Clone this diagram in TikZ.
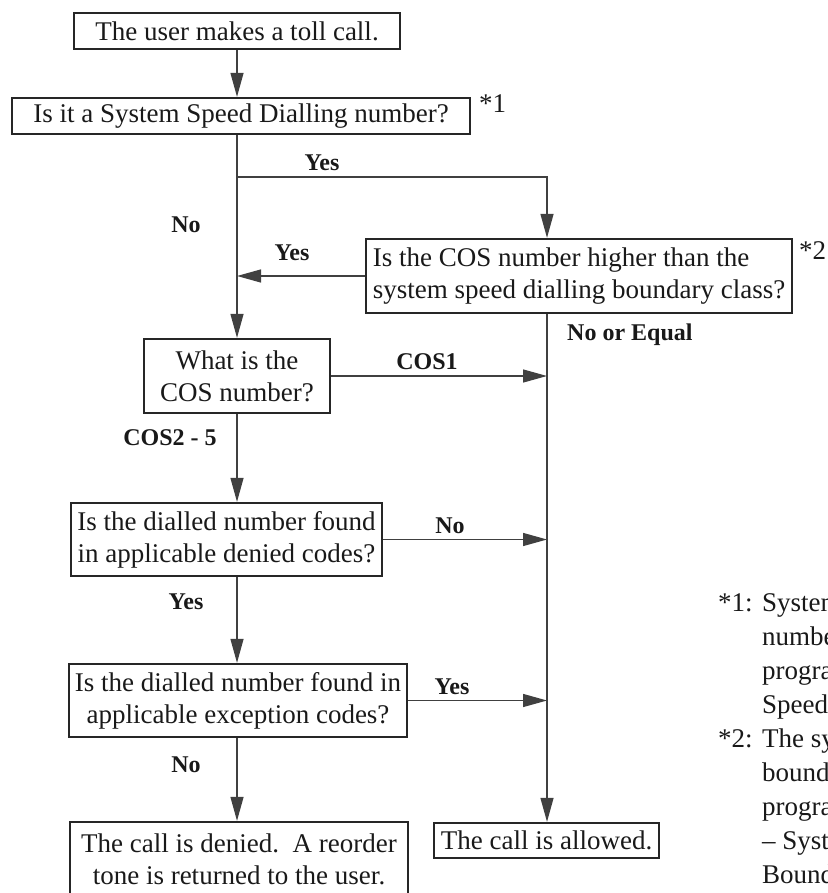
\documentclass[tikz,border=0pt]{standalone}
\usepackage{fontspec}
\setmainfont{Liberation Serif}
\usetikzlibrary{arrows.meta}
\begin{document}
\begin{tikzpicture}[x=1pt,y=-1pt,
  box/.style={draw=black!85, line width=2.3pt, inner sep=0pt, font=\fontsize{27}{32}\selectfont, text=black!90},
  conn/.style={draw=black!75, line width=1.3pt},
  arr/.style={conn, -{Triangle[length=24pt,width=13pt]}},
  lab/.style={inner sep=0pt, text depth=0pt, font=\fontsize{24}{28}\selectfont\bfseries, text=black!90},
  note/.style={inner sep=0pt, anchor=base west, font=\fontsize{27}{34}\selectfont, text=black!90},
  fnmark/.style={inner sep=0pt, anchor=west, font=\fontsize{27}{32}\selectfont, text=black!90},
]
\useasboundingbox (0,0) rectangle (827,893);
\clip (0,0) rectangle (827,893);

% boxes
\node[box, minimum width=326pt, minimum height=36pt] (b1) at (237,31) {The user makes a toll call.};
\node[box, minimum width=458pt, minimum height=36pt] (b2) at (241,116) {Is it a System Speed Dialling number?};
\node[box, minimum width=426pt, minimum height=74pt, align=left] (b3) at (579,276) {Is the COS number higher than the\\system speed dialling boundary class?};
\node[box, minimum width=186pt, minimum height=74pt, align=center] (b4) at (237,376) {What is the\\COS number?};
\node[box, minimum width=311pt, minimum height=73pt, align=center] (b5) at (226.5,539.5) {Is the dialled number found\\in applicable denied codes?};
\node[box, minimum width=338pt, minimum height=73pt, align=center] (b6) at (238,700.5) {Is the dialled number found in\\applicable exception codes?};
\node[box, minimum width=338pt, minimum height=74pt, align=center] (b7) at (239,859) {The call is denied.\ \ A reorder\\tone is returned to the user.};
\node[box, minimum width=225pt, minimum height=35pt] (b8) at (546.5,840.5) {The call is allowed.};

% footnote marks
\node[fnmark] (m1) at (479,104) {*1};
\node[fnmark] (m2) at (799,251) {*2};

% junctions
\coordinate (j1) at (237,177);
\coordinate (j1r) at (547,177);

% connectors
\draw[arr] (b1.south) -- (b1.south |- b2.north);
\draw[arr] (b4.north |- b2.south) -- (b4.north);
\draw[arr] (j1) -- (j1r) -- (j1r |- b3.north);
\draw[arr] (b3.west) -- (b3.west -| b4.north);
\draw[arr] (b3.south -| j1r) -- (b8.north -| j1r);
\draw[arr] (b4.east) -- (b4.east -| j1r);
\draw[arr] (b4.south) -- (b4.south |- b5.north);
\draw[arr] (b5.east) -- (b5.east -| j1r);
\draw[arr] (b4.south |- b5.south) -- (b4.south |- b6.north);
\draw[arr] (b6.east) -- (b6.east -| j1r);
\draw[arr] (b4.south |- b6.south) -- (b4.south |- b7.north);

% labels
\node[lab] (l1) at (322,163) {Yes};
\node[lab] (l2) at (186,225) {No};
\node[lab] (l3) at (292,253) {Yes};
\node[lab, anchor=west] (l4) at (567,332) {No or Equal};
\node[lab] (l5) at (427,362) {COS1};
\node[lab] (l6) at (170,438) {COS2 - 5};
\node[lab] (l7) at (450,526) {No};
\node[lab] (l8) at (186,602) {Yes};
\node[lab] (l9) at (452,687) {Yes};
\node[lab] (l10) at (186,765) {No};

% notes (cut off at the right edge, as in the reference)
\node[note] (n1) at (718,611) {\makebox[44pt][l]{*1:}System};
\node[note] (n2) at (762,645) {numbers};
\node[note] (n3) at (762,679) {programmed};
\node[note] (n4) at (762,713) {Speed};
\node[note] (n5) at (718,747) {\makebox[44pt][l]{*2:}The system};
\node[note] (n6) at (762,781) {boundary};
\node[note] (n7) at (762,815) {programmed};
\node[note] (n8) at (762,849) {– System};
\node[note] (n9) at (762,883) {Boundary};
\end{tikzpicture}
\end{document}
